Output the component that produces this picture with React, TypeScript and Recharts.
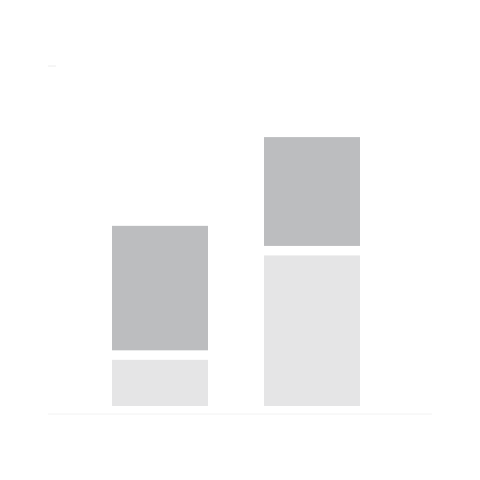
import React from 'react';
import { BarChart, Bar, XAxis, YAxis, ReferenceLine } from 'recharts';

// Values (0-100 scale)
const categories = ['A', 'B'];
const lowerValues = [16, 46];
const upperValues = [38.5, 34];
const yTicks = [100];

const data = categories.map((name, i) => ({
  name,
  lower: lowerValues[i],
  upper: upperValues[i],
}));

// segments leave a small white gap under each block
const GapRect = (props: any) => {
  const { x, y, width, height, fill } = props;
  const h = Math.max(height - 9.5, 0);
  return <rect x={x} y={y + 1.5} width={width} height={h} fill={fill} />;
};

const App = () => {
  return (
    <div style={{ position: 'absolute', left: 0, top: 0, width: 480, height: 480, background: '#fff' }}>
      <BarChart
        width={480}
        height={480}
        data={data}
        margin={{ top: 66, right: 48, left: 48, bottom: 66 }}
        barCategoryGap={0}
      >
        <XAxis dataKey="name" hide padding={{ left: 36, right: 44 }} />
        <YAxis
          domain={[0, 100]}
          ticks={yTicks}
          mirror
          axisLine={false}
          tickSize={8}
          tickLine={{ stroke: '#ececec' }}
          tickFormatter={() => ''}
        />
        <ReferenceLine y={0} stroke="#f2f2f2" strokeWidth={1} />
        <Bar
          dataKey="lower"
          stackId="s"
          fill="#e5e5e6"
          barSize={96}
          shape={GapRect}
          isAnimationActive={false}
        />
        <Bar
          dataKey="upper"
          stackId="s"
          fill="#bcbdbf"
          barSize={96}
          shape={GapRect}
          isAnimationActive={false}
        />
      </BarChart>
    </div>
  );
};

export default App;
